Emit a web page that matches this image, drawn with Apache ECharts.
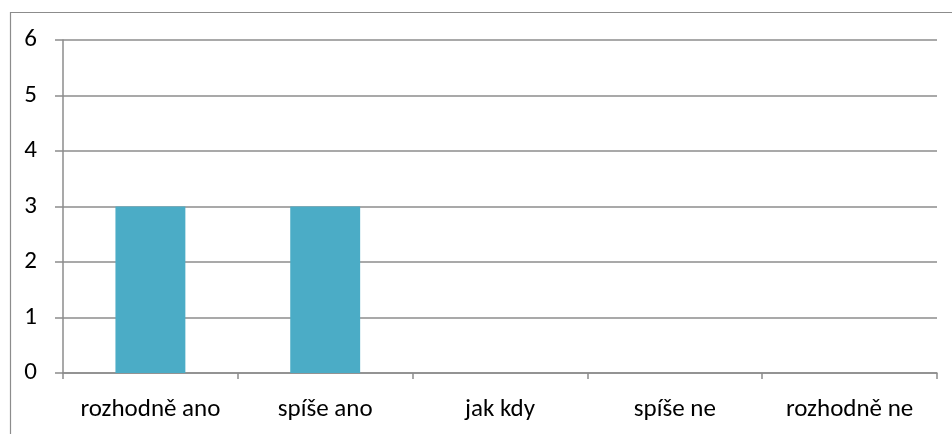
<!DOCTYPE html>
<html><head><meta charset="utf-8">
<script src="https://cdn.jsdelivr.net/npm/echarts@6/dist/echarts.min.js"></script>
<style>html,body{margin:0;padding:0;background:#fff}#c{width:952px;height:434px}</style>
</head><body><div id="c"></div>
<script>
const categories = ['rozhodně ano', 'spíše ano', 'jak kdy', 'spíše ne', 'rozhodně ne'];
const values = [3, 3, 0, 0, 0];
const yTicks = [0, 1, 2, 3, 4, 5, 6];

const chart = echarts.init(document.getElementById('c'), null, {renderer: 'canvas'});
const font = 'Carlito, Lato, "Open Sans", sans-serif';
chart.setOption({
  animation: false,
  backgroundColor: '#fff',
  graphic: [{
    type: 'rect', left: 8, top: 10, z: -1,
    shape: {x: 0, y: 0, width: 1000, height: 500},
    style: {fill: 'none', stroke: '#8c8c8c', lineWidth: 1.2}
  }],
  grid: {left: 63, right: 15, top: 40, bottom: 61, containLabel: false},
  xAxis: {
    type: 'category', data: categories,
    axisLine: {show: true, lineStyle: {color: '#8c8c8c', width: 1.5}},
    axisTick: {show: true, length: 6, interval: 0, alignWithLabel: false, lineStyle: {color: '#8c8c8c', width: 1.5}},
    axisLabel: {interval: 0, hideOverlap: false, color: '#000', fontSize: 25, fontFamily: font, margin: 24}
  },
  yAxis: {
    type: 'value', min: yTicks[0], max: yTicks[yTicks.length - 1], interval: 1,
    axisLine: {show: true, lineStyle: {color: '#8c8c8c', width: 1.5}},
    axisTick: {show: true, length: 8, lineStyle: {color: '#8c8c8c', width: 1.5}},
    splitLine: {show: true, lineStyle: {color: '#8c8c8c', width: 1.5}},
    axisLabel: {color: '#000', fontSize: 25, fontFamily: font, margin: 26}
  },
  series: [{
    type: 'bar', data: values, barWidth: '40%',
    itemStyle: {color: '#4BACC6'}
  }]
});
</script></body></html>
